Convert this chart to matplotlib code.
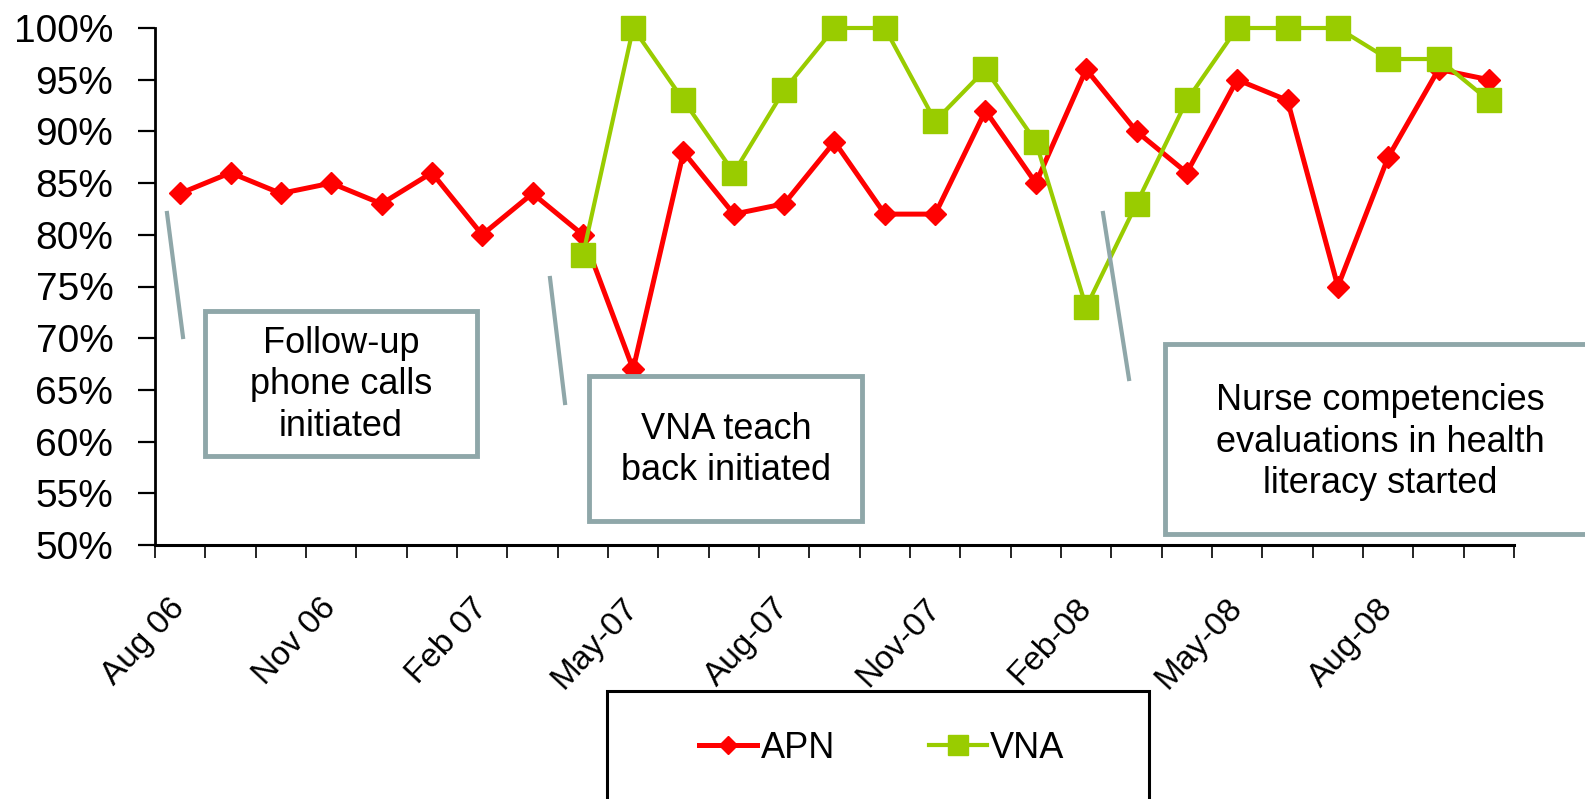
import numpy as np
import matplotlib
matplotlib.use('Agg')
import matplotlib.pyplot as plt
from matplotlib.patches import Rectangle
from matplotlib.lines import Line2D

plt.rcParams['font.family'] = ['Liberation Sans', 'DejaVu Sans']

W, H = 1585, 799

months = ['Aug 06', 'Sep 06', 'Oct 06', 'Nov 06', 'Dec 06', 'Jan 07', 'Feb 07', 'Mar 07', 'Apr 07',
          'May-07', 'Jun-07', 'Jul-07', 'Aug-07', 'Sep-07', 'Oct-07', 'Nov-07', 'Dec-07', 'Jan-08',
          'Feb-08', 'Mar-08', 'Apr-08', 'May-08', 'Jun-08', 'Jul-08', 'Aug-08', 'Sep-08', 'Oct-08']
apn = [84, 86, 84, 85, 83, 86, 80, 84, 80, 67, 88, 82, 83, 89, 82, 82, 92, 85, 96, 90, 86, 95, 93, 75, 87.5, 96, 95]
vna = [None] * 8 + [78, 100, 93, 86, 94, 100, 100, 91, 96, 89, 73, 83, 93, 100, 100, 100, 97, 97, 93]
label_every = 3

RED = '#FF0000'
GREEN = '#99CC00'
GREY = '#8FA7A9'


def px(x, y):
    return x / W, 1 - y / H


x = np.arange(len(months))
apn_arr = np.array(apn, dtype=float) / 100
vna_arr = np.array([np.nan if v is None else v for v in vna], dtype=float) / 100

fig = plt.figure(figsize=(W / 100, H / 100), dpi=100)
l, b = px(155, 545)
r, t = px(1514, 28)
ax = fig.add_axes([l, b, r - l, t - b])

ax.plot(x, apn_arr, color=RED, lw=3.6, marker='D', ms=11, mec=RED, mfc=RED, zorder=3, clip_on=False, label='APN')
ax.plot(x, vna_arr, color=GREEN, lw=3, marker='s', ms=17, mec=GREEN, mfc=GREEN, zorder=4, clip_on=False, label='VNA')

ax.set_xlim(-0.5, len(months) - 0.5)
ax.set_ylim(0.5, 1.0)
yt = np.arange(0.5, 1.001, 0.05)
ax.set_yticks(yt)
ax.set_yticklabels([f'{int(round(v * 100))}%' for v in yt], fontsize=28)
ax.tick_params(axis='y', direction='out', length=12, width=1.6, pad=18)

ax.set_xticks(np.arange(-0.5, len(months), 1.0))
ax.set_xticklabels([])
ax.tick_params(axis='x', which='major', direction='out', length=9, width=1.2)
lab_idx = x[::label_every]
ax.set_xticks(lab_idx, minor=True)
ax.set_xticklabels([months[i] for i in lab_idx], minor=True, fontsize=24,
                   rotation=47, ha='right', va='center', rotation_mode='anchor')
ax.tick_params(axis='x', which='minor', length=0, pad=42)

for s in ['top', 'right']:
    ax.spines[s].set_visible(False)
ax.spines['left'].set_linewidth(2)
ax.spines['bottom'].set_linewidth(2.2)

# annotation boxes and leader lines (figure pixel layout)
boxes = [
    ((205, 311, 477, 456), 'Follow-up\nphone calls\ninitiated', (341, 385), ((167, 213), (183, 337))),
    ((589, 376, 862, 521), 'VNA teach\nback initiated', (726, 450), ((550, 278), (565, 403))),
    ((1165, 344, 1620, 534), 'Nurse competencies\nevaluations in health\nliteracy started', (1380, 442), ((1103, 213), (1129, 379))),
]
for (x0, y0, x1, y1), txt, (tx, ty), ((lx0, ly0), (lx1, ly1)) in boxes:
    fx0, fy1 = px(x0, y1)
    fx1, fy0 = px(x1, y0)
    fig.patches.append(Rectangle((fx0, fy1), fx1 - fx0, fy0 - fy1, transform=fig.transFigure,
                                 facecolor='white', edgecolor=GREY, lw=3.5, zorder=5))
    fig.text(*px(tx, ty), txt, ha='center', va='center', fontsize=26, linespacing=1.25, zorder=6)
    a, c = px(lx0, ly0)
    d, e = px(lx1, ly1)
    fig.lines.append(Line2D([a, d], [c, e], transform=fig.transFigure, color=GREY, lw=3, zorder=6))

# legend box running off the bottom of the figure
lx0, ly0 = px(607, 691)
lx1, _ = px(1149, 691)
fig.patches.append(Rectangle((lx0, -0.1), lx1 - lx0, ly0 + 0.1, transform=fig.transFigure,
                             facecolor='white', edgecolor='black', lw=2.2, zorder=1))
fig.legend(loc='center', bbox_to_anchor=px(882, 748), ncol=2, frameon=False, fontsize=26,
           handlelength=1.6, handletextpad=0.1, columnspacing=2.6, markerscale=0.85)

fig.savefig('out.png', dpi=100)
